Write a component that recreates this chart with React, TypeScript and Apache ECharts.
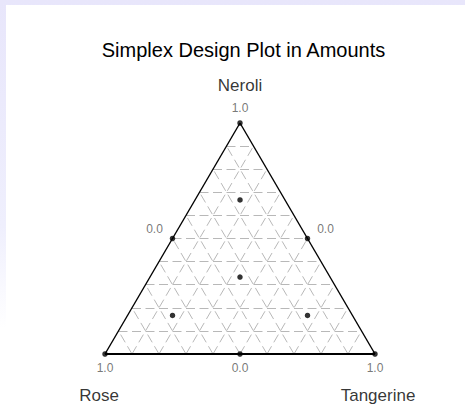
import React, { useEffect, useRef } from 'react';
import * as echarts from 'echarts';

const chartTitle = 'Simplex Design Plot in Amounts';
const componentNames = ['Rose', 'Tangerine', 'Neroli'];

// Design runs, as proportions of each component (rose, tangerine, neroli)
const rose = [1, 0, 0, 0.5, 0.5, 0, 0.3333, 0.6667, 0.1667, 0.1667];
const tangerine = [0, 1, 0, 0.5, 0, 0.5, 0.3333, 0.1667, 0.6667, 0.1667];
const neroli = [0, 0, 1, 0, 0.5, 0.5, 0.3333, 0.1667, 0.1667, 0.6667];

// Reference grid levels for each component
const gridLevels = [0.1, 0.2, 0.3, 0.4, 0.5, 0.6, 0.7, 0.8, 0.9];

// Axis tick values: the vertex (pure component) and the opposite edge
const tickHigh = 1.0;
const tickLow = 0.0;

const FONT = 'Arial, "Liberation Sans", sans-serif';

// ternary (rose, tangerine, neroli) -> cartesian data coordinates
const toXY = (r: number, t: number, n: number): [number, number] => [t + n / 2, n];

export default function App() {
  const ref = useRef<HTMLDivElement>(null);

  useEffect(() => {
    if (!ref.current) return;
    const chart = echarts.init(ref.current, undefined, { renderer: 'svg' });

    const gridLines: { coords: [number, number][] }[] = [];
    gridLevels.forEach((v) => {
      // constant neroli
      gridLines.push({ coords: [toXY(1 - v, 0, v), toXY(0, 1 - v, v)] });
      // constant rose
      gridLines.push({ coords: [toXY(v, 1 - v, 0), toXY(v, 0, 1 - v)] });
      // constant tangerine
      gridLines.push({ coords: [toXY(1 - v, v, 0), toXY(0, v, 1 - v)] });
    });

    const vR = toXY(1, 0, 0);
    const vT = toXY(0, 1, 0);
    const vN = toXY(0, 0, 1);

    const points = rose.map((r, i) => toXY(r, tangerine[i], neroli[i]));

    const fmt = (v: number) => v.toFixed(1);
    // tick labels: value at vertex, zero at opposite edge midpoint
    const tickData = [
      { value: toXY(1, 0, 0), text: fmt(tickHigh), offset: [0, 14] },
      { value: toXY(0, 0.5, 0.5), text: fmt(tickLow), offset: [18, -10] },
      { value: toXY(0, 1, 0), text: fmt(tickHigh), offset: [0, 14] },
      { value: toXY(0.5, 0, 0.5), text: fmt(tickLow), offset: [-18, -10] },
      { value: toXY(0, 0, 1), text: fmt(tickHigh), offset: [0, -15] },
      { value: toXY(0.5, 0.5, 0), text: fmt(tickLow), offset: [0, 14] },
    ];

    const nameData = [
      { value: vR, text: componentNames[0], offset: [-6, 41] },
      { value: vT, text: componentNames[1], offset: [3, 41] },
      { value: vN, text: componentNames[2], offset: [0, -38] },
    ];

    const labelSeries = (data: any[], color: string, size: number) => ({
      type: 'scatter',
      symbolSize: 0,
      silent: true,
      z: 5,
      itemStyle: { color: 'rgba(0,0,0,0)' },
      data: data.map((d) => ({
        value: d.value,
        label: {
          show: true,
          position: [0, 0],
          offset: d.offset,
          formatter: d.text,
          color,
          fontSize: size,
          fontFamily: FONT,
          align: 'center',
          verticalAlign: 'middle',
          textBorderWidth: 0,
        },
      })),
    });

    chart.setOption({
      animation: false,
      backgroundColor: new echarts.graphic.LinearGradient(0, 0, 0, 1, [
        { offset: 0, color: '#e8e6fb' },
        { offset: 0.55, color: '#efeffd' },
        { offset: 0.8, color: '#ffffff' },
      ]),
      graphic: [
        {
          type: 'rect',
          z: -10,
          silent: true,
          shape: { x: 6, y: 5, width: 459, height: 405 },
          style: { fill: '#ffffff' },
        },
      ],
      title: {
        text: chartTitle,
        left: 238.5,
        top: 35,
        textAlign: 'center',
        textStyle: { fontFamily: FONT, fontSize: 20, fontWeight: 'normal', color: '#000' },
      },
      grid: { left: 105, top: 123, width: 270, height: 231 },
      xAxis: { type: 'value', min: 0, max: 1, show: false },
      yAxis: { type: 'value', min: 0, max: 1, show: false },
      series: [
        {
          type: 'lines',
          coordinateSystem: 'cartesian2d',
          silent: true,
          z: 1,
          lineStyle: { color: '#b8b8b8', width: 1, type: [9, 4.5], opacity: 1 },
          data: gridLines,
        },
        {
          type: 'lines',
          coordinateSystem: 'cartesian2d',
          silent: true,
          z: 3,
          lineStyle: { color: '#000', width: 1.4, opacity: 1 },
          data: [{ coords: [vR, vN] }, { coords: [vN, vT] }],
        },
        {
          type: 'lines',
          coordinateSystem: 'cartesian2d',
          silent: true,
          z: 3,
          lineStyle: { color: '#000', width: 2, opacity: 1 },
          data: [{ coords: [vR, vT] }],
        },
        {
          type: 'scatter',
          symbol: 'circle',
          symbolSize: 5.5,
          z: 4,
          itemStyle: { color: '#000' },
          data: points,
        },
        labelSeries(tickData, '#555555', 12),
        labelSeries(nameData, '#000000', 17),
      ],
    });

    return () => chart.dispose();
  }, []);

  return (
    <div
      ref={ref}
      style={{ position: 'absolute', left: 0, top: 0, width: 465, height: 410 }}
    />
  );
}
